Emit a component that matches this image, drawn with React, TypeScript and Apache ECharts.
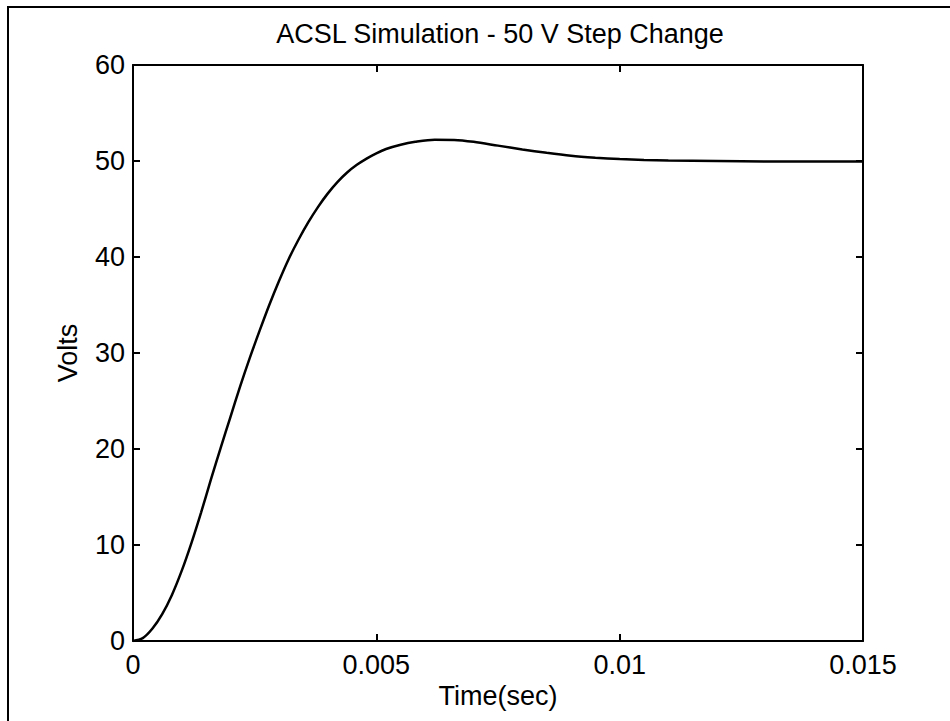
import React, { useEffect, useRef } from "react";
import * as echarts from "echarts";

const titleText = "ACSL Simulation - 50 V Step Change";
const xName = "Time(sec)";
const yName = "Volts";

const timeSec = [
  0, 0.0002, 0.0004, 0.0006, 0.0008, 0.001, 0.0012, 0.0014, 0.0016, 0.0018,
  0.002, 0.0022, 0.0024, 0.0026, 0.0028, 0.003, 0.0032, 0.0034, 0.0036, 0.0038,
  0.004, 0.0042, 0.0044, 0.0046, 0.0048, 0.005, 0.0052, 0.0055, 0.0058, 0.0062,
  0.0066, 0.007, 0.0075, 0.008, 0.0085, 0.009, 0.0095, 0.01, 0.0105, 0.011,
  0.012, 0.013, 0.014, 0.015,
];
const volts = [
  0, 0.3, 1.3, 2.8, 4.8, 7.3, 10.2, 13.4, 16.8, 20.1,
  23.3, 26.5, 29.5, 32.3, 35.0, 37.5, 39.8, 41.8, 43.6, 45.2,
  46.6, 47.8, 48.8, 49.6, 50.25, 50.8, 51.25, 51.7, 52.0, 52.22,
  52.2, 52.0, 51.6, 51.2, 50.85, 50.55, 50.35, 50.2, 50.1, 50.05,
  50.0, 49.95, 49.95, 49.95,
];

const xTickLabels = ["0", "0.005", "0.01", "0.015"];
const xStep = 0.005;
const yTickLabels = ["0", "10", "20", "30", "40", "50", "60"];
const yStep = 10;

const FONT = "'Liberation Sans', Arial, Helvetica, sans-serif";

export default function App() {
  const ref = useRef<HTMLDivElement>(null);
  useEffect(() => {
    if (!ref.current) return;
    const chart = echarts.init(ref.current, undefined, { renderer: "svg" });
    const axisLine = () => ({ show: true, onZero: false, lineStyle: { color: "#000", width: 2 } });
    const axisTick = () => ({ show: true, inside: true, length: 7, lineStyle: { color: "#000", width: 2 } });
    const fmtX = (v: number) => xTickLabels[Math.round(v / xStep)] ?? "";
    const fmtY = (v: number) => yTickLabels[Math.round(v / yStep)] ?? "";
    chart.setOption({
      animation: false,
      backgroundColor: "#fff",
      textStyle: { fontFamily: FONT, color: "#000" },
      title: {
        text: titleText,
        left: 495,
        top: 15,
        textAlign: "center",
        textStyle: { fontFamily: FONT, fontSize: 27, fontWeight: "normal", color: "#000" },
      },
      graphic: [
        {
          type: "rect",
          shape: { x: 8, y: 7, width: 980, height: 740 },
          style: { fill: "none", stroke: "#000", lineWidth: 2 },
          silent: true,
        },
      ],
      grid: { left: 133, right: 87, top: 65, bottom: 80, show: false },
      xAxis: [
        {
          type: "value",
          position: "bottom",
          min: 0,
          max: 0.015,
          interval: xStep,
          name: xName,
          nameLocation: "middle",
          nameGap: 30,
          nameTextStyle: { fontFamily: FONT, fontSize: 27, color: "#000" },
          axisLine: axisLine(),
          axisTick: axisTick(),
          splitLine: { show: false },
          axisLabel: { formatter: fmtX, fontFamily: FONT, fontSize: 27, color: "#000", margin: 10 },
        },
        {
          type: "value",
          position: "top",
          min: 0,
          max: 0.015,
          interval: xStep,
          axisLine: axisLine(),
          axisTick: axisTick(),
          splitLine: { show: false },
          axisLabel: { show: false },
        },
      ],
      yAxis: [
        {
          type: "value",
          position: "left",
          min: 0,
          max: 60,
          interval: yStep,
          name: yName,
          nameLocation: "middle",
          nameGap: 52,
          nameTextStyle: { fontFamily: FONT, fontSize: 27, color: "#000" },
          axisLine: axisLine(),
          axisTick: axisTick(),
          splitLine: { show: false },
          axisLabel: { formatter: fmtY, fontFamily: FONT, fontSize: 27, color: "#000", margin: 8 },
        },
        {
          type: "value",
          position: "right",
          min: 0,
          max: 60,
          interval: yStep,
          axisLine: axisLine(),
          axisTick: axisTick(),
          splitLine: { show: false },
          axisLabel: { show: false },
        },
      ],
      series: [
        {
          type: "line",
          xAxisIndex: 0,
          yAxisIndex: 0,
          data: timeSec.map((t, i) => [t, volts[i]]),
          smooth: 0.3,
          showSymbol: false,
          lineStyle: { color: "#000", width: 2.5 },
        },
      ],
    });
    return () => chart.dispose();
  }, []);
  return <div ref={ref} style={{ position: "fixed", left: 0, top: 0, width: 950, height: 721 }} />;
}
